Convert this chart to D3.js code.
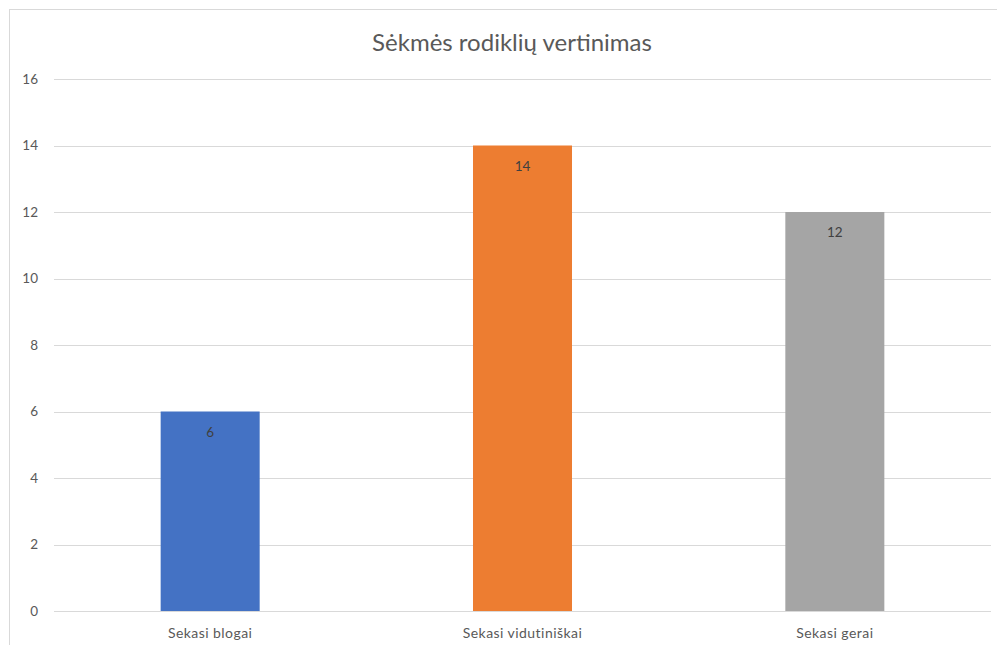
<!DOCTYPE html>
<html>
<head>
<meta charset="utf-8">
<script src="https://cdn.jsdelivr.net/npm/d3@7"></script>
<style>
  html, body { margin: 0; padding: 0; background: #fff; }
  svg { display: block; }
  text { font-family: Lato, "Open Sans", sans-serif; }
</style>
</head>
<body>
<svg id="chart" width="997" height="645"></svg>
<script>
const title = "Sėkmės rodiklių vertinimas";
const categories = ["Sekasi blogai", "Sekasi vidutiniškai", "Sekasi gerai"];
const values = [6, 14, 12];
const colors = ["#4472C4", "#ED7D31", "#A5A5A5"];
const yTicks = [0, 2, 4, 6, 8, 10, 12, 14, 16];

const svg = d3.select("#chart");
const W = 997, H = 645;
const margin = { left: 54, right: 6, top: 79, bottom: 34 };

svg.append("rect")
  .attr("x", 9.5).attr("y", 9.5)
  .attr("width", 1100).attr("height", 800)
  .attr("fill", "#fff").attr("stroke", "#d9d9d9").attr("stroke-width", 1);

const x = d3.scaleBand()
  .domain(categories)
  .range([margin.left, W - margin.right])
  .paddingInner(0.683)
  .paddingOuter(0.683 / 2);

const y = d3.scaleLinear()
  .domain([0, 16])
  .range([H - margin.bottom, margin.top]);

svg.append("g")
  .selectAll("line")
  .data(yTicks)
  .join("line")
  .attr("x1", margin.left).attr("x2", W - margin.right)
  .attr("y1", d => Math.round(y(d)) + 0.5).attr("y2", d => Math.round(y(d)) + 0.5)
  .attr("stroke", "#d9d9d9").attr("stroke-width", 1);

const yAxis = d3.axisLeft(y).tickValues(yTicks).tickSize(0).tickPadding(16);
const gy = svg.append("g").attr("transform", `translate(${margin.left},0)`).call(yAxis);
gy.select(".domain").remove();
gy.selectAll("text").attr("fill", "#595959").style("font-size", "13.5px")
  .style("font-family", "Lato, 'Open Sans', sans-serif");

const xAxis = d3.axisBottom(x).tickSize(0).tickPadding(17);
const gx = svg.append("g").attr("transform", `translate(0,${H - margin.bottom})`).call(xAxis);
gx.select(".domain").remove();
gx.selectAll("text").attr("fill", "#595959").style("font-size", "14px")
  .style("letter-spacing", "0.45px")
  .style("font-family", "Lato, 'Open Sans', sans-serif");

svg.append("g")
  .selectAll("rect")
  .data(values)
  .join("rect")
  .attr("x", (d, i) => x(categories[i]))
  .attr("width", x.bandwidth())
  .attr("y", d => y(d))
  .attr("height", d => y(0) - y(d))
  .attr("fill", (d, i) => colors[i]);

svg.append("g")
  .selectAll("text")
  .data(values)
  .join("text")
  .attr("x", (d, i) => x(categories[i]) + x.bandwidth() / 2)
  .attr("y", d => y(d) + 25)
  .attr("text-anchor", "middle")
  .attr("fill", "#404040")
  .style("font-size", "13.5px")
  .text(d => d);

svg.append("text")
  .attr("x", 512).attr("y", 51)
  .attr("text-anchor", "middle")
  .attr("fill", "#595959")
  .style("font-size", "24px")
  .text(title);
</script>
</body>
</html>
